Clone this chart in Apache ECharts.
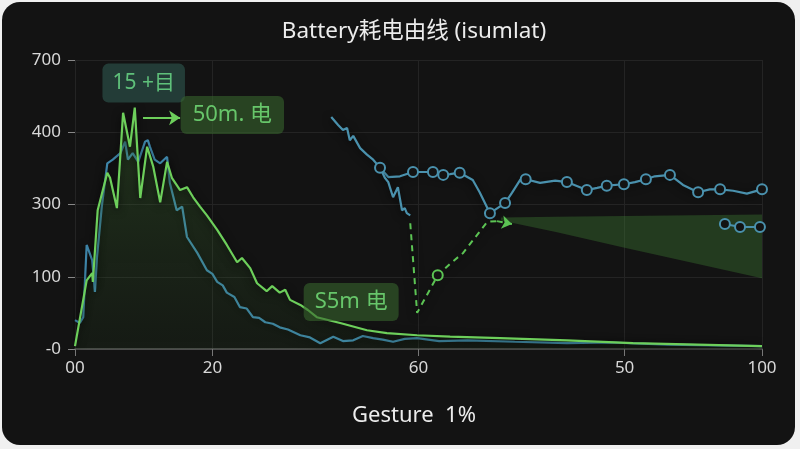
<!DOCTYPE html>
<html><head><meta charset="utf-8">
<script src="https://cdn.jsdelivr.net/npm/echarts@6/dist/echarts.min.js"></script>
<style>
html,body{margin:0;padding:0;background:#f0f0f0;width:800px;height:449px;overflow:hidden;}
#card{position:absolute;left:2px;top:2px;width:793px;height:443px;border-radius:18px;background:#131313;}
#chart{position:absolute;left:0;top:0;width:800px;height:449px;}
</style></head><body>
<div id="card"></div><div id="chart"></div>
<script>
// tick labels
const yTickLabels = ['-0', '100', '300', '400', '700'];
const xTickValues = [0, 20, 50, 80, 100];
const xTickLabels = ['00', '20', '60', '50', '100'];

// green main curve
const greenX = [0.0, 1.7, 2.5, 2.6, 3.3, 4.7, 5.1, 6.1, 7.0, 8.0, 8.7, 9.5, 10.5, 11.4, 12.4, 13.4, 14.1, 15.3, 16.3, 17.2, 18.2, 19.2, 20.7, 22.1, 23.6, 24.3, 25.5, 26.5, 27.9, 28.7, 29.8, 30.6, 31.3, 32.8, 33.9, 35.2, 38.6, 42.5, 45.4, 49.8, 54.6, 61.9, 71.6, 81.2, 100];
const greenY = [4, 95, 105, 93, 192, 244, 237, 195, 327, 280, 334, 209, 280, 252, 203, 259, 237, 220, 224, 210, 197, 185, 165, 144, 120, 126, 112, 91, 80, 87, 78, 82, 68, 61, 54, 44, 36, 26, 22, 19, 17, 15, 12, 8, 4];

// blue main curve
const blueX = [0.0, 0.7, 1.2, 1.7, 2.5, 2.9, 3.2, 3.9, 4.7, 5.5, 6.6, 7.3, 7.7, 8.4, 9.2, 10.2, 10.6, 10.9, 11.6, 12.4, 13.4, 13.8, 14.8, 15.6, 16.3, 17.8, 19.2, 20.0, 20.7, 21.5, 22.1, 23.2, 24.0, 25.0, 25.9, 26.8, 27.7, 28.8, 29.8, 31.0, 32.8, 34.2, 35.7, 37.6, 39.0, 40.5, 41.9, 43.4, 44.8, 46.3, 48.0, 49.8, 53.0, 57.1, 64.0, 71.6, 78.0, 86.2, 100];
const blueY = [40, 36, 44, 144, 123, 79, 127, 197, 257, 262, 271, 287, 262, 271, 259, 287, 289, 280, 262, 257, 266, 230, 192, 197, 155, 133, 109, 104, 93, 88, 78, 72, 58, 56, 44, 43, 37, 35, 30, 27, 19, 16, 8, 17, 11, 12, 18, 15, 13, 10, 14, 15, 11, 12, 10, 8, 9, 6, 4];

// blue marker curve (upper branch)
const upperX = [37.3, 38.3, 39.0, 39.6, 40.0, 40.5, 41.5, 42.5, 43.4, 44.4, 45.6, 47.3, 49.2, 52.1, 53.6, 54.6, 56.0, 57.9, 58.9, 60.4, 62.6, 63.6, 64.8, 65.6, 67.7, 69.9, 71.6, 74.5, 76.0, 77.4, 79.9, 81.5, 83.1, 84.4, 86.6, 88.5, 90.7, 92.4, 93.9, 95.8, 97.8, 100];
const upperY = [321, 310, 303, 306, 289, 295, 278, 269, 262, 251, 238, 239, 245, 245, 241, 242, 244, 234, 217, 188, 202, 216, 234, 235, 230, 233, 231, 220, 223, 226, 228, 231, 235, 239, 241, 227, 217, 221, 221, 219, 215, 221];
const upperMarkIdx = [9, 12, 13, 14, 16, 19, 20, 23, 26, 27, 29, 30, 32, 34, 36, 38, 41];

// blue lower branch
const lowerX = [44.4, 45.1, 45.6, 46.3, 47.0, 47.6, 48.0, 48.3, 48.8];
const lowerY = [251, 237, 231, 210, 224, 192, 195, 188, 185];

// green dashed path
const dashX = [48.8, 49.8, 52.8, 54.6, 56.5, 60.0, 61.4];
const dashY = [174, 50, 102, 118, 133, 176, 177];
const dashMarkIdx = [2];
const dashArrowEnd = [63.6, 173];

// small blue tail segment
const tailX = [94.6, 96.8, 99.7];
const tailY = [173, 169, 169];

// shaded band
const bandX = [62, 70, 80, 90, 100];
const bandLow = [178, 162, 140, 119, 98];
const bandHigh = [182, 183, 184, 185, 186];

const zip = (xs, ys) => xs.map((x, i) => [x, ys[i]]);
const GREEN = '#6dcf5b';
const BLUE = '#3f87ab';
const BLUE2 = '#4a91ad';
const BG = '#131313';
const FONT = 'Noto Sans, Noto Sans CJK SC, sans-serif';
const shadow = { shadowColor: 'rgba(0,0,0,0.75)', shadowBlur: 8, shadowOffsetY: 2 };

const chart = echarts.init(document.getElementById('chart'), null, { renderer: 'canvas' });
chart.setOption({
  backgroundColor: 'transparent',
  animation: false,
  title: {
    text: 'Battery耗电由线 (isumlat)',
    left: 409, top: 15, textAlign: 'center',
    textStyle: { color: '#ececec', fontSize: 22.5, fontWeight: 'normal', fontFamily: FONT }
  },
  grid: { left: 75, right: 38, top: 60, bottom: 100, containLabel: false },
  xAxis: {
    type: 'value', min: 0, max: 100,
    name: 'Gesture  1%', nameLocation: 'middle', nameGap: 56,
    nameTextStyle: { color: '#ececec', fontSize: 22, fontFamily: FONT, padding: [0, 9, 0, 0] },
    axisLine: { show: true, lineStyle: { color: '#5a5a5a', width: 1.5 } },
    axisTick: { show: true, length: 7, lineStyle: { color: '#777' }, customValues: xTickValues },
    axisLabel: {
      color: '#d8d8d8', fontSize: 17, margin: 11, fontFamily: FONT,
      customValues: xTickValues,
      formatter: v => { const i = xTickValues.indexOf(v); return i >= 0 ? xTickLabels[i] : ''; }
    },
    splitLine: { show: true, lineStyle: { color: '#242424', width: 1 } }
  },
  yAxis: {
    type: 'value', min: 0, max: 400, interval: 100,
    axisLine: { show: false },
    axisTick: { show: true, length: 7, lineStyle: { color: '#888' } },
    axisLabel: {
      color: '#d8d8d8', fontSize: 17, margin: 14, fontFamily: FONT,
      formatter: v => yTickLabels[Math.round(v / 100)]
    },
    splitLine: { show: true, lineStyle: { color: '#242424', width: 1 } }
  },
  series: [
    {
      type: 'custom', name: 'band', silent: true, z: 1,
      data: bandX.map((x, i) => [x, bandLow[i], bandHigh[i]]),
      encode: { x: 0, y: [1, 2] },
      renderItem: (params, api) => {
        if (params.dataIndex !== 0) return { type: 'group', children: [] };
        const pts = [];
        bandX.forEach((x, i) => pts.push(api.coord([x, bandHigh[i]])));
        for (let i = bandX.length - 1; i >= 0; i--) pts.push(api.coord([bandX[i], bandLow[i]]));
        return { type: 'polygon', shape: { points: pts }, style: { fill: 'rgba(64,130,52,0.36)' } };
      }
    },
    {
      type: 'line', name: 'green', data: zip(greenX, greenY), symbol: 'none', z: 4,
      lineStyle: Object.assign({ color: GREEN, width: 2.2 }, shadow),
      areaStyle: {
        color: new echarts.graphic.LinearGradient(0, 0, 0, 1, [
          { offset: 0, color: 'rgba(80,150,60,0.38)' },
          { offset: 1, color: 'rgba(50,100,40,0.14)' }
        ])
      },
      markLine: {
        silent: true, symbol: ['none', 'arrow'], symbolSize: 11,
        lineStyle: { color: GREEN, width: 2, type: 'solid' }, label: { show: false },
        data: [[{ coord: [9.9, 320] }, { coord: [15.3, 320] }]]
      },
      markPoint: {
        symbol: 'rect', symbolSize: 1, itemStyle: { color: 'rgba(0,0,0,0)' }, silent: true,
        label: {
          show: true, position: 'inside', color: '#67c66a', fontSize: 22,
          fontFamily: FONT, borderRadius: 6
        },
        data: [
          { coord: [10.0, 368], value: '15 +目', label: { formatter: '15 +目', backgroundColor: 'rgba(50,95,85,0.55)', color: '#5fc07a', fontSize: 21, padding: [9, 10] } },
          { coord: [22.9, 324], value: '50m. 电', label: { formatter: '50m. 电', backgroundColor: 'rgba(55,100,45,0.6)', padding: [8, 12] } },
          { coord: [40.2, 65], value: 'S5m 电', label: { formatter: 'S5m 电', backgroundColor: 'rgba(55,100,45,0.6)', padding: [8, 11] } }
        ]
      }
    },
    {
      type: 'line', name: 'blue', data: zip(blueX, blueY), symbol: 'none', z: 3,
      lineStyle: Object.assign({ color: BLUE, width: 2.2 }, shadow)
    },
    {
      type: 'line', name: 'upper', z: 5,
      data: upperX.map((x, i) => ({ value: [x, upperY[i]], symbol: upperMarkIdx.includes(i) ? 'circle' : 'none' })),
      showAllSymbol: true, symbolSize: 10,
      itemStyle: { color: BG, borderColor: BLUE2, borderWidth: 2 },
      lineStyle: Object.assign({ color: BLUE2, width: 2.2 }, shadow)
    },
    {
      type: 'line', name: 'lower', z: 5, data: zip(lowerX, lowerY), symbol: 'none',
      lineStyle: Object.assign({ color: BLUE2, width: 2.2 }, shadow)
    },
    {
      type: 'line', name: 'tail', z: 5, data: zip(tailX, tailY),
      symbol: 'circle', symbolSize: 10, showAllSymbol: true,
      itemStyle: { color: BG, borderColor: BLUE2, borderWidth: 2 },
      lineStyle: { color: BLUE2, width: 2 }
    },
    {
      type: 'line', name: 'dash', z: 6,
      data: dashX.map((x, i) => ({ value: [x, dashY[i]], symbol: dashMarkIdx.includes(i) ? 'circle' : 'none' })),
      showAllSymbol: true, symbolSize: 10,
      itemStyle: { color: BG, borderColor: '#5cc454', borderWidth: 2 },
      lineStyle: Object.assign({ color: '#5cc454', width: 2, type: [6, 5] }, shadow),
      markLine: {
        silent: true, symbol: ['none', 'arrow'], symbolSize: 10,
        lineStyle: { color: '#5cc454', width: 2, type: [6, 5] }, label: { show: false },
        data: [[{ coord: [dashX[dashX.length - 1], dashY[dashY.length - 1]] }, { coord: dashArrowEnd }]]
      }
    }
  ]
});
</script>
</body></html>
